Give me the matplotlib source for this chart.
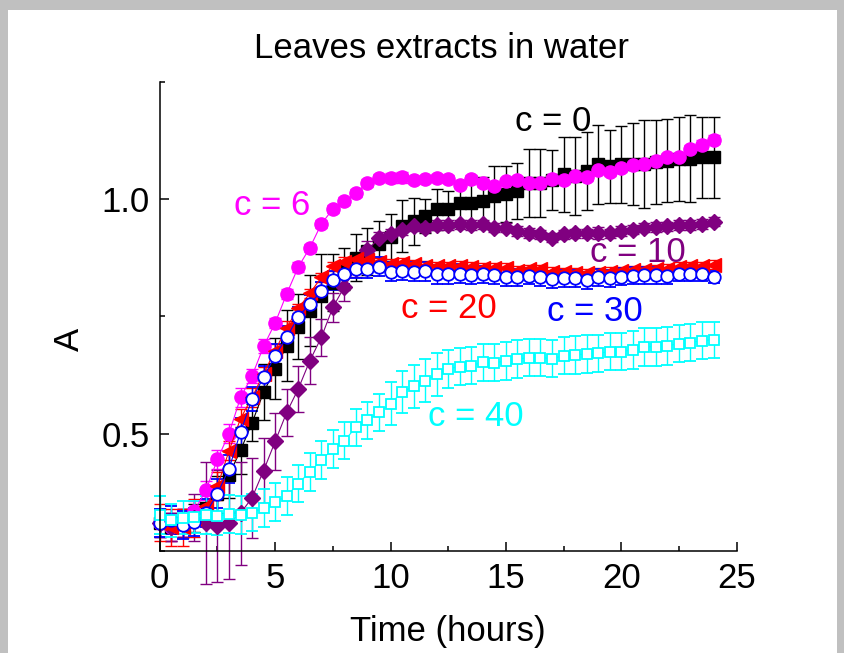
import matplotlib
matplotlib.use("Agg")
import matplotlib.pyplot as plt
from matplotlib.patches import Rectangle
from matplotlib.ticker import MultipleLocator
import numpy as np

plt.rcParams['font.family'] = ['Liberation Sans', 'DejaVu Sans']

# time points, hours (every 30 min)
time_h = np.arange(0, 24.01, 0.5)

# absorbance per concentration
a_c0 = [0.31, 0.30, 0.31, 0.32, 0.341, 0.37, 0.412, 0.464, 0.523, 0.588,
        0.638, 0.687, 0.728, 0.762, 0.794, 0.822, 0.851, 0.875, 0.889, 0.904,
        0.919, 0.943, 0.953, 0.964, 0.978, 0.978, 0.992, 0.992, 0.997, 1.006,
        1.011, 1.018, 1.035, 1.035, 1.040, 1.053, 1.050, 1.060, 1.074, 1.070,
        1.074, 1.075, 1.075, 1.079, 1.082, 1.086, 1.086, 1.089, 1.089]
e_c0 = [0.03, 0.03, 0.03, 0.03, 0.03, 0.04, 0.05, 0.05, 0.04, 0.06,
        0.065, 0.076, 0.07, 0.076, 0.09, 0.06, 0.045, 0.05, 0.05, 0.05,
        0.05, 0.055, 0.05, 0.037, 0.043, 0.04, 0.043, 0.045, 0.05, 0.065,
        0.06, 0.06, 0.073, 0.073, 0.064, 0.08, 0.083, 0.084, 0.084, 0.078,
        0.083, 0.087, 0.093, 0.09, 0.088, 0.089, 0.093, 0.087, 0.086]

a_c6 = [0.31, 0.30, 0.31, 0.335, 0.379, 0.445, 0.50, 0.577, 0.623, 0.686,
        0.736, 0.798, 0.855, 0.896, 0.947, 0.979, 0.996, 1.013, 1.034, 1.045,
        1.045, 1.047, 1.040, 1.042, 1.045, 1.043, 1.031, 1.044, 1.035, 1.028,
        1.038, 1.040, 1.035, 1.034, 1.042, 1.040, 1.050, 1.047, 1.063, 1.058,
        1.067, 1.072, 1.075, 1.081, 1.089, 1.091, 1.107, 1.116, 1.127]
e_c6 = [0.03, 0.03, 0.03, 0.02, 0.02, 0.02, 0.02, 0.02, 0.015, 0.015,
        0.01, 0.01, 0.01, 0.008, 0.008, 0.008, 0.008, 0.008, 0.008, 0.008,
        0.01, 0.012, 0.008, 0.008, 0.008, 0.008, 0.008, 0.008, 0.008, 0.008,
        0.008, 0.008, 0.008, 0.008, 0.008, 0.008, 0.008, 0.008, 0.008, 0.008,
        0.008, 0.008, 0.008, 0.008, 0.008, 0.008, 0.008, 0.01, 0.01]

a_c10 = [0.31, 0.30, 0.31, 0.32, 0.31, 0.303, 0.309, 0.33, 0.363, 0.421,
         0.483, 0.545, 0.595, 0.655, 0.705, 0.769, 0.813, 0.853, 0.891, 0.917,
         0.925, 0.934, 0.943, 0.939, 0.945, 0.945, 0.946, 0.945, 0.946, 0.939,
         0.939, 0.932, 0.928, 0.925, 0.918, 0.925, 0.927, 0.927, 0.928, 0.927,
         0.932, 0.935, 0.939, 0.941, 0.942, 0.945, 0.945, 0.947, 0.952]
e_c10 = [0.03, 0.03, 0.03, 0.05, 0.13, 0.12, 0.12, 0.11, 0.085, 0.07,
         0.06, 0.05, 0.05, 0.05, 0.04, 0.03, 0.03, 0.02, 0.02, 0.012,
         0.012, 0.01, 0.01, 0.01, 0.01, 0.01, 0.01, 0.01, 0.01, 0.01,
         0.01, 0.01, 0.01, 0.01, 0.01, 0.01, 0.01, 0.01, 0.012, 0.01,
         0.01, 0.01, 0.01, 0.01, 0.01, 0.01, 0.01, 0.01, 0.01]

a_c20 = [0.31, 0.30, 0.30, 0.32, 0.345, 0.388, 0.463, 0.532, 0.577, 0.628,
         0.677, 0.726, 0.767, 0.799, 0.833, 0.857, 0.866, 0.872, 0.870, 0.865,
         0.862, 0.864, 0.861, 0.858, 0.857, 0.857, 0.858, 0.855, 0.854, 0.854,
         0.854, 0.847, 0.850, 0.850, 0.845, 0.844, 0.843, 0.842, 0.843, 0.845,
         0.846, 0.848, 0.848, 0.850, 0.852, 0.855, 0.857, 0.857, 0.860]
e_c20 = [0.04, 0.04, 0.04, 0.04, 0.03, 0.03, 0.02, 0.02, 0.02, 0.015,
         0.015, 0.015, 0.01, 0.01, 0.01, 0.01, 0.01, 0.01, 0.01, 0.01,
         0.01, 0.01, 0.01, 0.01, 0.01, 0.01, 0.01, 0.01, 0.01, 0.01,
         0.01, 0.01, 0.01, 0.01, 0.01, 0.01, 0.01, 0.01, 0.01, 0.01,
         0.01, 0.01, 0.01, 0.01, 0.01, 0.01, 0.01, 0.01, 0.01]

a_c30 = [0.31, 0.315, 0.304, 0.311, 0.33, 0.372, 0.425, 0.503, 0.574, 0.62,
         0.666, 0.705, 0.749, 0.776, 0.804, 0.827, 0.84, 0.851, 0.852, 0.856,
         0.845, 0.847, 0.845, 0.846, 0.84, 0.84, 0.841, 0.838, 0.84, 0.838,
         0.833, 0.833, 0.836, 0.833, 0.829, 0.831, 0.831, 0.827, 0.833, 0.831,
         0.835, 0.837, 0.838, 0.838, 0.836, 0.84, 0.84, 0.841, 0.834]
e_c30 = [0.03, 0.03, 0.03, 0.03, 0.03, 0.03, 0.03, 0.03, 0.025, 0.025,
         0.025, 0.025, 0.02, 0.02, 0.02, 0.02, 0.02, 0.02, 0.02, 0.02,
         0.02, 0.02, 0.02, 0.02, 0.02, 0.02, 0.02, 0.018, 0.018, 0.018,
         0.018, 0.018, 0.018, 0.018, 0.018, 0.018, 0.018, 0.018, 0.018, 0.018,
         0.018, 0.018, 0.018, 0.018, 0.018, 0.015, 0.015, 0.015, 0.012]

a_c40 = [0.326, 0.315, 0.32, 0.322, 0.326, 0.323, 0.328, 0.326, 0.331, 0.341,
         0.354, 0.367, 0.393, 0.418, 0.443, 0.467, 0.485, 0.513, 0.528, 0.545,
         0.564, 0.588, 0.601, 0.613, 0.626, 0.638, 0.643, 0.645, 0.652, 0.651,
         0.655, 0.659, 0.662, 0.662, 0.660, 0.666, 0.668, 0.670, 0.671, 0.675,
         0.675, 0.678, 0.685, 0.685, 0.687, 0.692, 0.694, 0.698, 0.700]
e_c40 = [0.04, 0.035, 0.035, 0.035, 0.04, 0.04, 0.04, 0.04, 0.04, 0.04,
         0.04, 0.04, 0.04, 0.04, 0.04, 0.04, 0.04, 0.04, 0.04, 0.04,
         0.045, 0.045, 0.046, 0.045, 0.045, 0.04, 0.04, 0.04, 0.04, 0.04,
         0.04, 0.04, 0.04, 0.04, 0.04, 0.04, 0.04, 0.04, 0.04, 0.04,
         0.04, 0.04, 0.04, 0.04, 0.04, 0.04, 0.04, 0.04, 0.039]

series = [
    ("c = 0", a_c0, e_c0, "#000000", "s", True, 8.0),
    ("c = 6", a_c6, e_c6, "#ff00ff", "o", True, 9.5),
    ("c = 10", a_c10, e_c10, "#800080", "D", True, 8.0),
    ("c = 20", a_c20, e_c20, "#ff0000", "<", True, 10.0),
    ("c = 30", a_c30, e_c30, "#0000ff", "o", False, 9.0),
    ("c = 40", a_c40, e_c40, "#00ffff", "s", False, 7.5),
]

# label positions in data coords (x, y baseline)
label_pos = {
    "c = 0": (17.05, 1.146),
    "c = 6": (4.88, 0.966),
    "c = 10": (20.7, 0.866),
    "c = 20": (12.55, 0.746),
    "c = 30": (18.85, 0.740),
    "c = 40": (13.7, 0.515),
}

W, H = 845, 653
fig = plt.figure(figsize=(W / 100, H / 100), dpi=100)
fig.patch.set_facecolor("#c0c0c0")
fig.add_artist(Rectangle((8 / W, 0), (837 - 8) / W, (H - 10) / H,
                         transform=fig.transFigure, facecolor="white",
                         edgecolor="none", zorder=-10))

ax = fig.add_axes([159.8 / W, (H - 550.7) / H, (736.6 - 159.8) / W, (550.7 - 82) / H])
ax.set_facecolor("none")

for name, y, err, col, mk, filled, ms in series:
    ax.errorbar(time_h, y, yerr=err, color=col, lw=0.8, elinewidth=1.0,
                capsize=4.5, capthick=1.0, marker=mk, markersize=ms,
                markerfacecolor=col if filled else "white",
                markeredgecolor=col, markeredgewidth=1.0 if filled else 1.3,
                clip_on=False)
    lx, ly = label_pos[name]
    ax.text(lx, ly, name, color=col, fontsize=25, ha="center", va="baseline")

ax.set_xlim(0, 25)
ax.set_ylim(0.25, 1.25)
ax.xaxis.set_major_locator(MultipleLocator(5))
ax.xaxis.set_minor_locator(MultipleLocator(2.5))
ax.set_yticks([0.5, 1.0])
ax.set_yticklabels(["0.5", "1.0"])
ax.yaxis.set_minor_locator(MultipleLocator(0.25))

for s in ["top", "right"]:
    ax.spines[s].set_visible(False)
for s in ["left", "bottom"]:
    ax.spines[s].set_linewidth(1.1)

ax.tick_params(which="both", direction="in", width=1.1, labelsize=25)
ax.tick_params(which="major", length=6.5)
ax.tick_params(which="minor", length=3.5)
ax.tick_params(axis="x", pad=8)
ax.tick_params(axis="y", pad=7)

ax.set_xlabel("Time (hours)", fontsize=25)
ax.xaxis.set_label_coords(0.5, -0.173)
ax.xaxis.label.set_va("center")
ax.set_ylabel("A", fontsize=25)
ax.yaxis.set_label_coords(-0.157, 0.45)
ax.yaxis.label.set_va("center")

fig.text(442 / W, 1 - 48 / H, "Leaves extracts in water", fontsize=25,
         ha="center", va="center")

fig.savefig("out.png", dpi=100, facecolor=fig.get_facecolor())
